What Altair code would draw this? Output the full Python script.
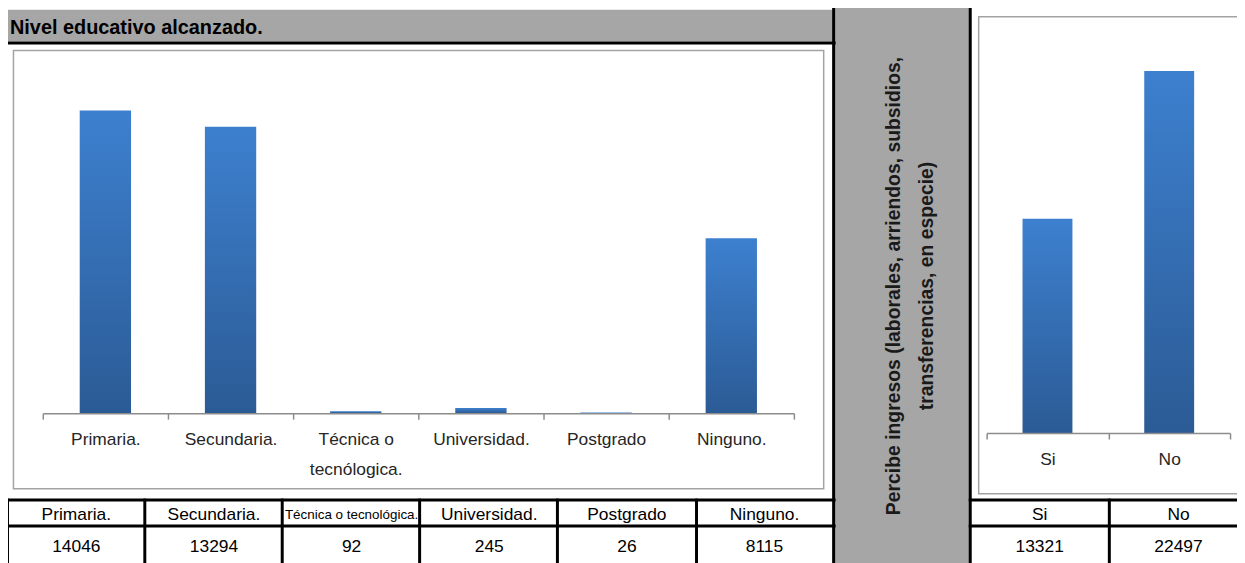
import altair as alt
import pandas as pd

# ---------------- data ----------------
edu_cats = ["Primaria.", "Secundaria.", "Técnica o tecnológica.", "Universidad.", "Postgrado", "Ninguno."]
edu_chart_labels = ["Primaria.", "Secundaria.", "Técnica o\ntecnólogica.", "Universidad.", "Postgrado", "Ninguno."]
edu_values = [14046, 13294, 92, 245, 26, 8115]

inc_cats = ["Si", "No"]
inc_values = [13321, 22497]

edu_title = "Nivel educativo alcanzado."
inc_title = ["Percibe ingresos (laborales, arriendos, subsidios,", "transferencias, en especie)"]

edu_df = pd.DataFrame({"etiqueta": edu_chart_labels, "categoria": edu_cats, "valor": edu_values})
inc_df = pd.DataFrame({"categoria": inc_cats, "valor": inc_values})

# ---------------- layout helpers ----------------
W, H = 1237, 555
OFF = 8  # page margin


def px(v):
    return v - OFF


FONT = "Liberation Sans"
GRAY = "#a6a6a6"
one = pd.DataFrame({"k": [0]})


def rect(x1, x2, y1, y2, fill, stroke=None, sw=0):
    kw = dict(fill=fill)
    if stroke:
        kw.update(stroke=stroke, strokeWidth=sw)
    return alt.Chart(one).mark_rect(**kw).encode(
        x=alt.value(px(x1)), x2=alt.value(px(x2)), y=alt.value(px(y1)), y2=alt.value(px(y2))
    )


def hline(x1, x2, y, w=3, color="black"):
    return alt.Chart(one).mark_rule(color=color, strokeWidth=w).encode(
        x=alt.value(px(x1)), x2=alt.value(px(x2)), y=alt.value(px(y))
    )


def vline(x, y1, y2, w=3, color="black"):
    return alt.Chart(one).mark_rule(color=color, strokeWidth=w).encode(
        x=alt.value(px(x)), y=alt.value(px(y1)), y2=alt.value(px(y2))
    )


grad = alt.LinearGradient(
    gradient="linear",
    stops=[alt.GradientStop(color="#3d80cf", offset=0), alt.GradientStop(color="#2b5b95", offset=1)],
    x1=0, x2=0, y1=0, y2=1,
)

axis_common = dict(
    orient="bottom", tickBand="extent", labelAngle=0, labelFont=FONT, labelFontSize=17.5,
    labelColor="#262626", labelPadding=12, tickSize=6, tickColor="#8c8c8c", tickWidth=1.5,
    domainColor="#8c8c8c", domainWidth=1.5, labelLimit=0, labelLineHeight=30,
    labelExpr="split(datum.label, '\\n')", grid=False, title=None, zindex=1,
)
BAR_FRAC = 0.41

# ---------------- decorations ----------------
decor = [
    rect(7, 838, 8, 40, GRAY),                       # header band
    rect(840, 976, 0, 600, GRAY),                    # gray side column
    rect(13.5, 829, 49, 490, "white", "#a3a3a3", 1.5),   # left chart box
    rect(985, 1300, 15, 495, "white", "#a3a3a3", 1.5),   # right chart box
    hline(5, 841, 41.5),
    vline(839, 0, 600),
    vline(976.5, 0, 600),
    # left table grid
    hline(5, 841, 501.5),
    hline(5, 841, 527.5),
    # right table grid
    hline(975, 1300, 501.5),
    hline(975, 1300, 527.5),
]
for xv in [7.5, 145.7, 284, 422.3, 561, 701]:
    decor.append(vline(xv, 500, 600))
decor.append(vline(1116.5, 500, 600))

header = alt.Chart(one).mark_text(
    text=edu_title, font=FONT, fontSize=20, fontWeight="bold", align="left", baseline="alphabetic", color="black"
).encode(x=alt.value(px(10)), y=alt.value(px(32)))

side_title = alt.Chart(one).mark_text(
    text=inc_title, font=FONT, fontSize=19.5, fontWeight="bold", angle=270, align="center",
    baseline="middle", lineHeight=33, color="#1a1a1a"
).encode(x=alt.value(px(900)), y=alt.value(px(286)))

# ---------------- left chart ----------------
edu_bars = alt.Chart(edu_df).mark_bar(color=grad, width=alt.RelativeBandSize(BAR_FRAC)).encode(
    x=alt.X("etiqueta:N", sort=edu_chart_labels,
            scale=alt.Scale(domain=edu_chart_labels, range=[px(43), px(799)], paddingInner=0, paddingOuter=0),
            axis=alt.Axis(offset=px(414) - H, **axis_common)),
    y=alt.Y("valor:Q", scale=alt.Scale(domain=[0, 16000], range=[px(414), px(67)]), axis=None),
)

edu_tab_x = alt.X("categoria:N", sort=edu_cats,
                  scale=alt.Scale(domain=edu_cats, range=[px(7.5), px(838.7)], paddingInner=0, paddingOuter=0),
                  axis=None)
edu_tab_head = alt.Chart(edu_df).mark_text(font=FONT, color="black", baseline="middle").encode(
    x=edu_tab_x, y=alt.value(px(517)), text="categoria:N",
    size=alt.condition("datum.categoria == 'Técnica o tecnológica.'", alt.value(13.5), alt.value(17.5)),
)
edu_tab_vals = alt.Chart(edu_df).mark_text(font=FONT, fontSize=17.5, color="black", baseline="middle").encode(
    x=edu_tab_x, y=alt.value(px(549)), text=alt.Text("valor:Q", format="d"),
)
edu_table = alt.layer(edu_tab_head, edu_tab_vals)

# ---------------- right chart ----------------
inc_bars = alt.Chart(inc_df).mark_bar(color=grad, width=alt.RelativeBandSize(BAR_FRAC)).encode(
    x=alt.X("categoria:N", sort=inc_cats,
            scale=alt.Scale(domain=inc_cats, range=[px(993), px(1238)], paddingInner=0, paddingOuter=0),
            axis=alt.Axis(offset=px(434) - H, **axis_common)),
    y=alt.Y("valor:Q", scale=alt.Scale(domain=[0, 25000], range=[px(434), px(29)]), axis=None),
)

inc_tab_x = alt.X("categoria:N", sort=inc_cats,
                  scale=alt.Scale(domain=inc_cats, range=[px(976.5), px(1256)], paddingInner=0, paddingOuter=0),
                  axis=None)
inc_tab_head = alt.Chart(inc_df).mark_text(font=FONT, fontSize=17.5, color="black", baseline="middle").encode(
    x=inc_tab_x, y=alt.value(px(517)), text="categoria:N",
)
inc_tab_vals = alt.Chart(inc_df).mark_text(font=FONT, fontSize=17.5, color="black", baseline="middle").encode(
    x=inc_tab_x, y=alt.value(px(549)), text=alt.Text("valor:Q", format="d"),
)
inc_table = alt.layer(inc_tab_head, inc_tab_vals)

chart = (
    alt.layer(*decor, header, side_title, edu_bars, edu_table, inc_bars, inc_table)
    .resolve_scale(x="independent", y="independent", size="independent")
    .resolve_axis(x="independent")
    .properties(width=W, height=H, autosize="none", padding=0, background="white")
    .configure_view(stroke=None)
)

chart.save("out.html", embed_options={"renderer": "svg", "actions": False})
